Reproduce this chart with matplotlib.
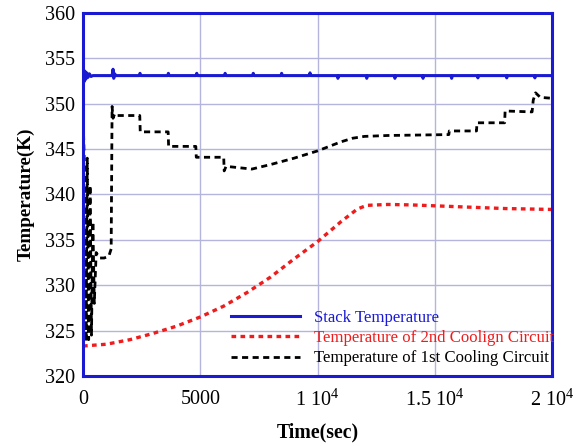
import matplotlib
matplotlib.use("Agg")
import matplotlib.pyplot as plt

plt.rcParams['font.family'] = ['Liberation Serif', 'DejaVu Serif']
plt.rcParams['mathtext.fontset'] = 'custom'
plt.rcParams['mathtext.rm'] = 'Liberation Serif'
plt.rcParams['mathtext.it'] = 'Liberation Serif:italic'

# ---- data ----
stack_t = [0, 40, 80, 120, 160, 210, 270, 340, 420,
           1240, 1280, 1310, 1350, 1400,
           2400, 2430, 2460, 3610, 3640, 3670, 4820, 4850, 4880,
           6030, 6060, 6090, 7230, 7260, 7290, 8440, 8470, 8500,
           9650, 9680, 9710, 10840, 10870, 10900, 12070, 12100, 12130,
           13270, 13300, 13330, 14470, 14500, 14530, 15690, 15720, 15750,
           16810, 16840, 16870, 18040, 18070, 18100, 19240, 19270, 19300, 20000]
stack_T = [354.2, 352.4, 353.6, 352.7, 353.4, 352.9, 353.3, 353.0, 353.1,
           353.1, 353.8, 352.8, 353.3, 353.1,
           353.1, 353.35, 353.1, 353.1, 353.35, 353.1, 353.1, 353.35, 353.1,
           353.1, 353.35, 353.1, 353.1, 353.35, 353.1, 353.1, 353.35, 353.1,
           353.1, 353.4, 353.1, 353.1, 352.8, 353.1, 353.1, 352.8, 353.1,
           353.1, 352.8, 353.1, 353.1, 352.8, 353.1, 353.1, 352.8, 353.1,
           353.1, 352.85, 353.1, 353.1, 352.85, 353.1, 353.1, 352.85, 353.1, 353.1]

second_t = [0, 1000, 2000, 3000, 4000, 5000, 6000, 7000, 8000, 9000,
            10000, 11000, 11700, 12100, 13000, 14000, 15000, 16000,
            17000, 18000, 19000, 20000]
second_T = [323.3, 323.5, 324.0, 324.7, 325.5, 326.5, 327.7, 329.2, 330.9, 332.9,
            334.8, 337.0, 338.4, 338.8, 338.9, 338.85, 338.75, 338.65,
            338.55, 338.45, 338.4, 338.35]

first_t = [0, 60, 130, 180, 240, 300, 360, 420, 480, 560, 700, 900, 1100,
           1200, 1240, 1280, 1350, 1450, 2420, 2440, 3630, 3650, 4810, 4830,
           6000, 6020, 6100, 7200, 8000, 9000, 10000, 11000, 11500, 12000,
           13000, 15600, 15620, 16780, 16800, 17980, 18000, 19150, 19200,
           19300, 19500, 20000]
first_T = [349.0, 343.0, 323.8, 344.0, 324.0, 341.0, 324.5, 337.0, 328.0,
           333.6, 333.0, 333.0, 333.2, 334.0, 349.7, 348.4, 348.9, 348.7,
           348.7, 346.9, 346.9, 345.3, 345.3, 344.1, 344.1, 342.6, 343.1,
           342.8, 343.3, 344.0, 344.8, 345.8, 346.2, 346.4, 346.5, 346.6,
           347.0, 347.0, 347.9, 347.9, 349.2, 349.1, 350.4, 351.2, 350.7, 350.6]

x_ticks = [0, 5000, 10000, 15000, 20000]
x_tick_labels = ["0", "5000", r"1 10$^4$", r"1.5 10$^4$", r"2 10$^4$"]
y_ticks = [320, 325, 330, 335, 340, 345, 350, 355, 360]

labels = ["Stack Temperature", "Temperature of 2nd Coolign Circuit",
          "Temperature of 1st Cooling Circuit"]
colors = ["#1a1ad2", "#ee1c1c", "#000000"]

fig = plt.figure(figsize=(5.81, 4.46), dpi=100)
ax = fig.add_axes([0.1429, 0.157, 0.8072, 0.8139])

l1, = ax.plot(stack_t, stack_T, color=colors[0], lw=2.2, label=labels[0])
l2, = ax.plot(second_t, second_T, color=colors[1], lw=2.4,
              linestyle=(0, (1.4, 1.3)), label=labels[1])
l3, = ax.plot(first_t, first_T, color=colors[2], lw=2.0,
              linestyle=(0, (2.2, 1.6)), label=labels[2])

ax.set_xlim(0, 20000)
ax.set_ylim(320, 360)
ax.set_xticks(x_ticks)
ax.set_xticklabels(x_tick_labels)
ax.set_yticks(y_ticks)
ax.tick_params(length=0, labelsize=14.5)
ax.tick_params(axis='y', pad=6)
ax.tick_params(axis='x', pad=10)
ax.grid(True, color="#b4b4dc", lw=1.0)
ax.set_axisbelow(True)
for s in ax.spines.values():
    s.set_color("#1a1ad2")
    s.set_linewidth(2.2)

ax.set_xlabel("Time(sec)", fontsize=14.2, fontweight='bold', labelpad=8)
ax.set_ylabel("Temperature(K)", fontsize=13.8, fontweight='bold', labelpad=7)

leg = ax.legend(handles=[l1, l2, l3], loc='lower left',
                bbox_to_anchor=(0.298, 0.003), frameon=False, fontsize=12.1,
                handlelength=4.1, handletextpad=0.85, borderpad=0,
                labelspacing=0.25)
for txt, c in zip(leg.get_texts(), colors):
    txt.set_color(c)

fig.savefig("out.png", dpi=100)
